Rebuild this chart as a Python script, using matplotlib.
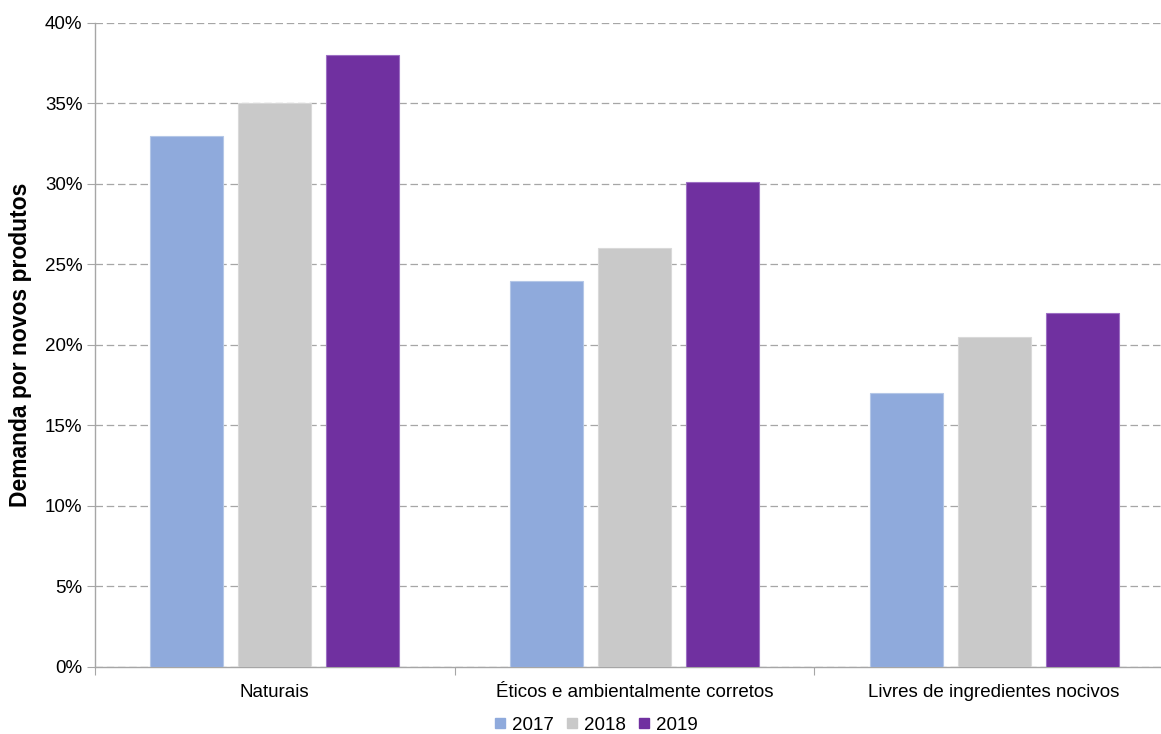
import numpy as np
from matplotlib import pyplot as plt
from matplotlib.lines import Line2D

plt.rcParams['font.family'] = ['Liberation Sans', 'DejaVu Sans']

# data
categories = ['Naturais', 'Éticos e ambientalmente corretos', 'Livres de ingredientes nocivos']
years = ['2017', '2018', '2019']
v2017 = [33.0, 24.0, 17.0]
v2018 = [35.0, 26.0, 20.5]
v2019 = [38.0, 30.1, 22.0]
yticks = [0, 5, 10, 15, 20, 25, 30, 35, 40]

colors = ['#8faadc', '#c9c9c9', '#7030a0']
edges = ['#b4c7e7', '#d9d9d9', '#9d6fc4']

fig = plt.figure(figsize=(11.61, 7.34), dpi=100)
ax = fig.add_axes([0.0818, 0.0913, 0.9294, 0.8774])

x = np.arange(len(categories))
width = 0.203
step = 0.245
for i, vals in enumerate([v2017, v2018, v2019]):
    ax.bar(x + (i - 1) * step, vals, width, color=colors[i],
           edgecolor=edges[i], linewidth=0.8, zorder=3)

ax.set_xlim(-0.5, 2.5)
ax.set_ylim(0, 40)
ax.set_yticks(yticks)
ax.set_yticklabels(['{}%'.format(t) for t in yticks], fontsize=13.5)
ax.yaxis.grid(True, linestyle=(0, (6, 3)), color='#a6a6a6', linewidth=0.9, zorder=0)

# category labels centred, ticks on the boundaries
ax.set_xticks([-0.5, 0.5, 1.5, 2.5])
ax.set_xticklabels([])
ax.set_xticks(x, minor=True)
ax.set_xticklabels(categories, minor=True, fontsize=13.5)
ax.tick_params(axis='x', which='minor', length=0, pad=12)
ax.tick_params(axis='x', which='major', length=6, color='#a6a6a6')
ax.tick_params(axis='y', length=6, color='#a6a6a6', pad=3)

for s in ['top', 'right']:
    ax.spines[s].set_visible(False)
ax.spines['left'].set_color('#a6a6a6')
ax.spines['bottom'].set_color('#a6a6a6')
ax.spines['left'].set_linewidth(1.0)
ax.spines['bottom'].set_linewidth(1.0)

ax.set_ylabel('Demanda por novos produtos', fontsize=16.5, fontweight='bold', labelpad=9)

handles = [Line2D([], [], marker='s', linestyle='', markersize=7.5,
                  color=c) for c in colors]
fig.legend(handles, years, loc='center', bbox_to_anchor=(0.512, 0.012),
           ncol=3, frameon=False, fontsize=13.5, handletextpad=0.15,
           columnspacing=0.45, handlelength=1.0)

plt.savefig('out.png', format='png')
